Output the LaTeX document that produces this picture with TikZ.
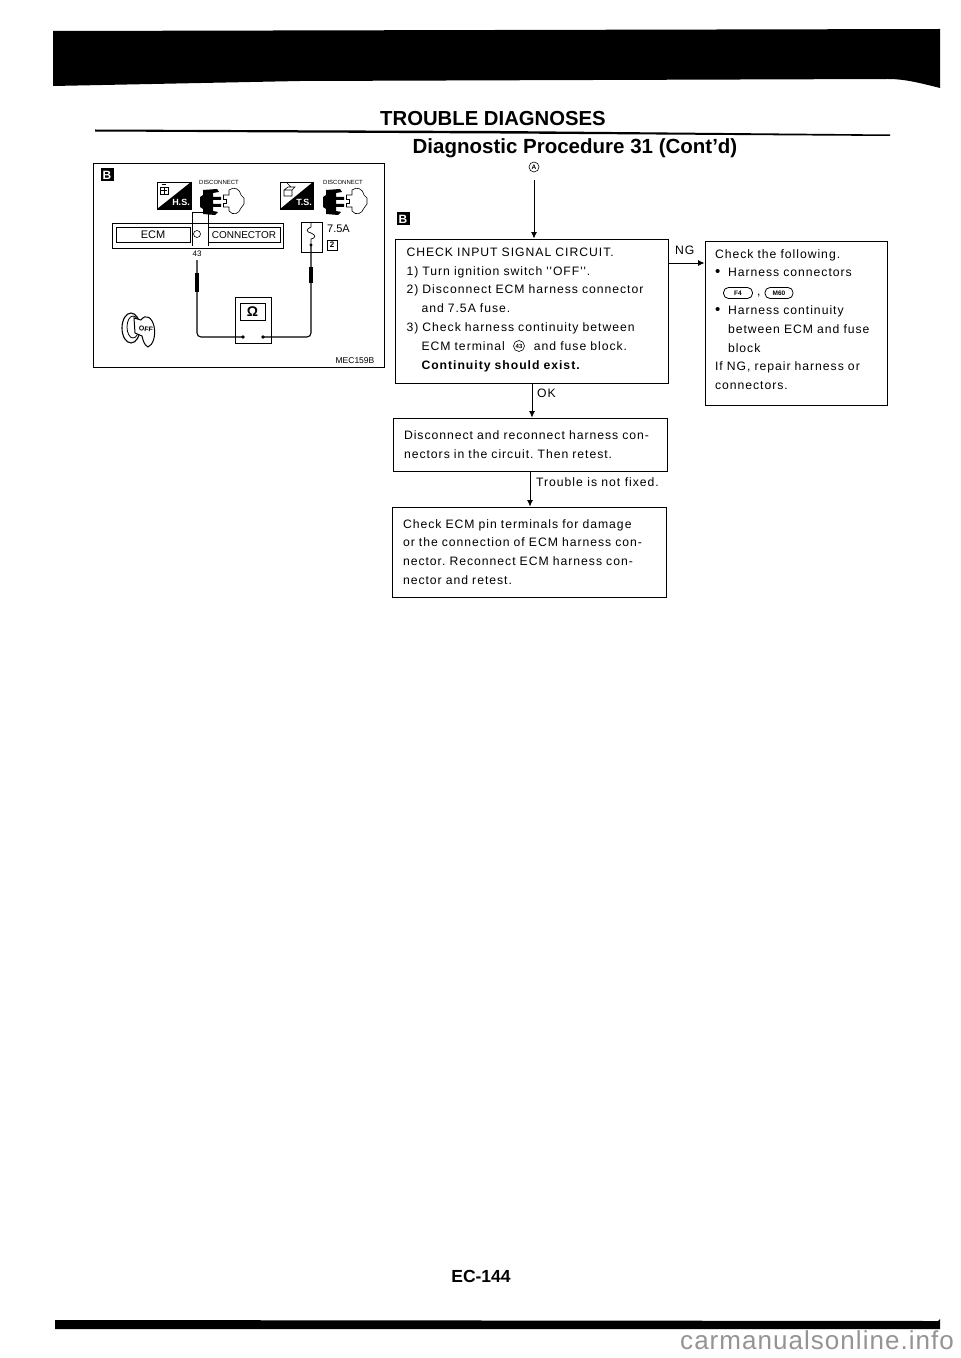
\documentclass[tikz,border=0pt]{standalone}
\usepackage{fontspec}
\usetikzlibrary{arrows.meta}
\setmainfont{Liberation Sans}
\newfontfamily\bodyf[LetterSpace=8]{Liberation Sans}
\newfontfamily\markf[LetterSpace=4]{Liberation Sans}
\newcommand{\fs}[2]{\fontsize{#1bp}{#2bp}\selectfont}
\newcommand{\bul}{\makebox[13bp][l]{\raisebox{.5bp}{\fs{15}{15}•}}}
\newcommand{\plugicon}{%
  \fill (3,1) -- (17,0) -- (19,3) -- (13,4) -- (13,8) -- (21,8) -- (21,11) -- (13,11) -- (13,15) -- (21,15) -- (21,18) -- (13,18) -- (13,22) -- (18,23) -- (15,26) -- (3,25) -- (3,20) -- (0,18) -- (0,8) -- (3,6) -- cycle;
  \draw[line width=.6bp] (23,6) -- (29,6) -- (29,1) .. controls (34,-3) and (40,0) .. (41,6) -- (44,9) -- (44,15) -- (41,19) .. controls (39,25) and (33,27) .. (29,22) -- (29,18) -- (23,18);
  \draw[line width=.6bp] (23,6) -- (23,10) -- (26,10) -- (26,14) -- (23,14) -- (23,18);
}
\tikzset{
  flowbox/.style={draw,line width=.9bp,align=left,font=\bodyf\frenchspacing\fs{12.2}{18.8},inner sep=0pt},
  txt/.style={inner sep=0pt,font=\bodyf\fs{12.2}{14}},
  small/.style={inner sep=0pt,font=\fs{6}{8}},
  arr/.style={line width=.9bp,-{Latex[length=6.5bp,width=6bp]}},
  wire/.style={line width=1.1bp,rounded corners=4bp},
  badge/.style={fill=black,text=white,inner sep=0pt,minimum width=13bp,minimum height=13bp,font=\bfseries\fs{12}{12}},
  part/.style={draw,line width=.7bp,inner sep=0pt},
  tag/.style={draw,line width=.8bp,rounded corners=5bp,inner sep=0pt,minimum height=11bp,font=\bfseries\fs{6.5}{7}},
}
\begin{document}
\begin{tikzpicture}[x=1bp,y=-1bp]
\useasboundingbox (0,0) rectangle (960,1358);
\fill[white] (0,0) rectangle (960,1358);
% page bars
\fill (53,31) -- (940,29) -- (940,88) .. controls (920,83) and (905,79) .. (888,79) -- (300,81) -- (53,86) -- cycle;
\fill (55,1320) -- (938,1321) -- (940,1319) -- (940,1329) -- (55,1329) -- cycle;
\fill (95,129.5) -- (500,131) -- (890,134.5) -- (890,136) -- (500,133.5) -- (95,131.5) -- cycle;
% headings
\node[inner sep=0pt,anchor=base,font=\bfseries\fs{20.3}{21}] (title) at (493,126) {TROUBLE DIAGNOSES};
\node[inner sep=0pt,anchor=base,font=\bfseries\fs{20.5}{22}] (sub) at (575,154) {Diagnostic Procedure 31 (Cont'd)};
\node[draw,circle,line width=.6bp,inner sep=0pt,minimum size=10bp,font=\bfseries\fs{6.5}{7}] (a) at (534,167) {A};
\node[inner sep=0pt,anchor=base,font=\bfseries\fs{17.5}{18}] (page) at (481,1282) {EC-144};
\node[inner sep=0pt,anchor=base west,text=black!42,font=\markf\fs{26}{28}] (wm) at (680,1349) {carmanualsonline.info};
% left panel
\node[draw,line width=.9bp,inner sep=0pt,minimum width=291bp,minimum height=204bp] (panel) at (238.5,265) {};
\node[badge] (bl) at (107,175) {B};
\node[part,minimum width=34bp,minimum height=27bp] (hs) at (174,195.5) {};
\fill (191,182) -- (191,209) -- (157,209) -- cycle;
\node[inner sep=0pt,text=white,font=\bfseries\fs{9}{9}] (hst) at (181,202) {H.S.};
\draw[line width=.6bp] (160,187) rectangle (168,194) (162,184) -- (166,184) (161,190) -- (167,190) (164,187) -- (164,194);
\node[small] (dc1) at (219,182) {DISCONNECT};
\begin{scope}[shift={(200,189)}]\plugicon\end{scope}
\node[part,minimum width=33bp,minimum height=27bp] (ts) at (296.5,195.5) {};
\fill (313,182) -- (313,209) -- (280,209) -- cycle;
\node[inner sep=0pt,text=white,font=\bfseries\fs{9}{9}] (tst) at (304,202) {T.S.};
\draw[line width=.6bp] (284,190) rectangle (292,196) (284,190) -- (288,187) -- (295,187) -- (292,190) (287,183) -- (291,187);
\node[small] (dc2) at (343,182) {DISCONNECT};
\begin{scope}[shift={(323,189)}]\plugicon\end{scope}
% ECM connector
\node[part,minimum width=16bp,minimum height=12bp] (tab) at (200,218) {};
\node[part,fill=white,minimum width=171bp,minimum height=25bp] (ecmo) at (197.5,235.5) {};
\node[part,minimum width=74bp,minimum height=15bp,font=\fs{11}{12}] (ecm) at (153,235) {ECM};
\node[part,minimum width=72bp,minimum height=15bp,font=\fs{10}{12}] (conn) at (244,235) {CONNECTOR};
\draw[line width=.7bp] (192,224) -- (192,246) (208,224) -- (208,246);
\node[draw,circle,line width=.6bp,inner sep=0pt,minimum size=7bp] (pin) at (197,234) {};
\node[inner sep=0pt,font=\fs{8}{9}] (n43) at (197,254) {43};
\node[part,minimum width=21bp,minimum height=30bp] (fuse) at (311.5,237) {};
\draw[line width=.7bp] (311,222) -- (311,227) .. controls (306,229) and (306,232) .. (311,233) .. controls (316,235) and (316,238) .. (311,239) -- (311,245);
\fill (311,245) circle (1.6);
\node[inner sep=0pt,anchor=west,font=\fs{11}{12}] (amp) at (327,229) {7.5A};
\node[part,minimum width=10bp,minimum height=10bp,font=\bfseries\fs{8}{9}] (two) at (332,245) {2};
% meter and leads
\node[part,minimum width=36bp,minimum height=46bp] (meter) at (253,320) {};
\node[part,minimum width=25bp,minimum height=17bp,font=\bfseries\fs{14}{15}] (ohm) at (252.5,312) {Ω};
\coordinate (tl) at (243,337);
\coordinate (tr) at (263,337);
\fill (tl) circle (1.9) (tr) circle (1.9);
\draw[wire] (n43.south) ++(0,3) -- (197,337) -- (tl);
\draw[wire] (311,245) -- (311,337) -- (tr);
\draw[line width=4bp] (197,273) -- (197,292);
\draw[line width=4bp] (311,267) -- (311,283);
% ignition key
\draw[line width=1.1bp,fill=white] (131,328) ellipse (9 and 15);
\draw[line width=.8bp] (133,327) ellipse (6 and 11);
\draw[line width=1bp,fill=white] (134,318) -- (141,320) .. controls (146,313) and (152,318) .. (154,326) .. controls (156,336) and (153,345) .. (148,347) .. controls (144,345) and (143,340) .. (142,336) -- (135,333) -- cycle;
\node[inner sep=0pt,rotate=-8,font=\bfseries\fs{7}{8}] (off) at (146,329) {OFF};
\node[inner sep=0pt,font=\fs{8.5}{9}] (mec) at (355,361) {MEC159B};
% flow
\node[badge] (br) at (403,219) {B};
\node[flowbox,minimum width=273bp,minimum height=144bp,text width=250bp] (b1) at (531.5,311) {%
CHECK INPUT SIGNAL CIRCUIT.\\
1) Turn ignition switch ''OFF''.\\
2) Disconnect ECM harness connector\\
\hspace*{15bp}and 7.5A fuse.\\
3) Check harness continuity between\\
\hspace*{15bp}ECM terminal \hspace*{21bp} and fuse block.\\
\hspace*{15bp}\textbf{Continuity should exist.}\rule[-5bp]{0pt}{0bp}};
\node[draw,circle,line width=.6bp,inner sep=0pt,minimum size=11bp,font=\bfseries\fs{6}{6}] (c43) at (519,346) {43};
\node[flowbox,minimum width=182bp,minimum height=164bp,text width=162bp] (b2) at (796,323) {%
Check the following.\\
\bul Harness connectors\\
\hspace*{13bp}\hspace*{29bp},\\
\bul Harness continuity\\
\hspace*{13bp}between ECM and fuse\\
\hspace*{13bp}block\\
If NG, repair harness or\\
connectors.\rule[-7bp]{0pt}{0bp}};
\node[tag,minimum width=29bp] (f4) at (738,293) {F4};
\node[tag,minimum width=28bp] (m60) at (779,293) {M60};
\node[flowbox,minimum width=274bp,minimum height=53bp,text width=252bp] (b3) at (530,444.5) {%
Disconnect and reconnect harness con-\\
nectors in the circuit. Then retest.};
\node[flowbox,minimum width=274bp,minimum height=90bp,text width=252bp] (b4) at (529,552) {%
Check ECM pin terminals for damage\\
or the connection of ECM harness con-\\
nector. Reconnect ECM harness con-\\
nector and retest.};
\coordinate (astart) at (534,180);
\coordinate (ngy) at (668,263);
\coordinate (oky) at (532,383);
\coordinate (tfy) at (530,471);
\draw[arr] (astart) -- (astart |- b1.north);
\draw[arr] (b1.east |- ngy) -- (b2.west |- ngy);
\draw[arr] (oky |- b1.south) -- (oky |- b3.north);
\draw[arr] (tfy |- b3.south) -- (tfy |- b4.north);
\node[txt,anchor=west] (ng) at (675,250) {NG};
\node[txt,anchor=west] (ok) at (537,393) {OK};
\node[txt,anchor=west] (tf) at (536,482) {Trouble is not fixed.};
\end{tikzpicture}
\end{document}
